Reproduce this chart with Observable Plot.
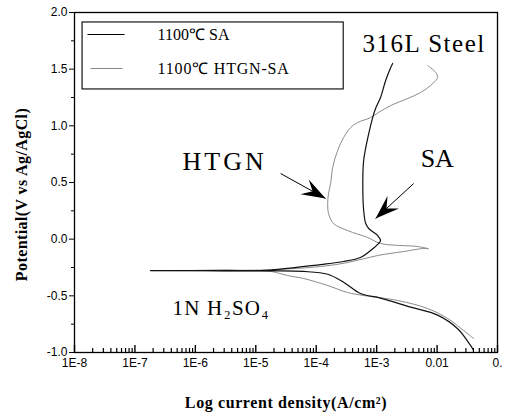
<!DOCTYPE html>
<html><head><meta charset="utf-8">
<script src="https://cdn.jsdelivr.net/npm/d3@7"></script>
<script src="https://cdn.jsdelivr.net/npm/@observablehq/plot@0.6"></script>
<style>body{margin:0;background:#fff;}</style>
</head><body><div id="chart"></div>
<script>
// ---- data ----
const seriesNames = ["1100℃ SA", "1100℃ HTGN-SA"];

// SA: scan order, cathodic end -> corrosion potential -> anodic end
const saCurrent = [0.040, 0.036, 0.0219, 0.0102, 3.66e-3, 1.16e-3, 5.4e-4, 2.84e-4, 1.55e-4, 6.2e-5, 1.76e-5, 3e-6, 1.8e-7,
  3e-6, 1.76e-5, 1.18e-4, 2.84e-4, 5.4e-4, 7.96e-4, 1.08e-3, 1.16e-3, 1.04e-3, 7.4e-4, 6.6e-4, 6.1e-4, 5.9e-4, 6.1e-4, 7.4e-4, 8.6e-4, 9.6e-4, 1.16e-3, 1.41e-3, 1.71e-3, 1.84e-3];
const saPotential = [-0.98, -0.94, -0.79, -0.67, -0.60, -0.52, -0.48, -0.38, -0.31, -0.285, -0.28, -0.279, -0.277,
  -0.276, -0.272, -0.224, -0.197, -0.162, -0.10, -0.038, -0.012, 0.032, 0.094, 0.138, 0.253, 0.491, 0.694, 0.932, 1.073, 1.153, 1.25, 1.40, 1.515, 1.55];

// HTGN-SA
const htgnCurrent = [0.0404, 0.0275, 0.015, 6.98e-3, 2.23e-3, 6.1e-4, 3.31e-4, 1.55e-4, 6.2e-5, 3.36e-5, 2.4e-5, 1.76e-5, 3e-6, 1.8e-7,
  3e-6, 1.76e-5, 1.18e-4, 3.31e-4, 1.04e-3, 2.8e-3, 6.0e-3, 7.2e-3, 4.77e-3, 1.16e-3, 7.1e-4, 3.31e-4, 1.94e-4, 1.6e-4, 1.55e-4, 1.6e-4, 1.73e-4, 1.87e-4, 2.26e-4, 2.84e-4, 3.72e-4, 4.84e-4, 7.96e-4, 1.08e-3, 1.71e-3, 3.26e-3, 5.35e-3, 7.8e-3, 0.0102, 9.5e-3, 6.98e-3];
const htgnPotential = [-0.877, -0.806, -0.70, -0.612, -0.541, -0.497, -0.471, -0.409, -0.347, -0.321, -0.30, -0.285, -0.28, -0.277,
  -0.275, -0.27, -0.241, -0.206, -0.144, -0.109, -0.082, -0.085, -0.065, -0.038, 0.015, 0.076, 0.138, 0.226, 0.324, 0.403, 0.491, 0.632, 0.782, 0.897, 0.985, 1.029, 1.073, 1.118, 1.179, 1.241, 1.294, 1.356, 1.426, 1.471, 1.532];

const xTickValues = [1e-8, 1e-7, 1e-6, 1e-5, 1e-4, 1e-3, 1e-2, 1e-1];
const xTickLabels = ["1E-8", "1E-7", "1E-6", "1E-5", "1E-4", "1E-3", "0.01", "0."];
const yTickValues = [-1, -0.5, 0, 0.5, 1, 1.5, 2];
const yMinorTicks = [-0.75, -0.25, 0.25, 0.75, 1.25, 1.75];

// ---- layout ----
const W = 506, H = 414, mL = 74, mR = 9, mT = 12, mB = 62;
const innerH = H - mT - mB;
const xDomain = [1e-8, 0.1], yDomain = [-1, 2];

const rows = [];
saCurrent.forEach((c, i) => rows.push({series: seriesNames[0], i: c, v: saPotential[i]}));
htgnCurrent.forEach((c, i) => rows.push({series: seriesNames[1], i: c, v: htgnPotential[i]}));
const saRows = rows.filter(d => d.series === seriesNames[0]);
const htRows = rows.filter(d => d.series === seriesNames[1]);

const xMinor = [];
for (let e = -8; e <= -2; e++) for (let m = 2; m <= 9; m++) xMinor.push(m * Math.pow(10, e));

const xs = Plot.scale({x: {type: "log", domain: xDomain, range: [mL, W - mR]}});
const ys = Plot.scale({y: {type: "linear", domain: yDomain, range: [H - mB, mT]}});

const arrows = [
  {x1: 2.58e-5, y1: 0.579, x2: 1.43e-4, y2: 0.359},
  {x1: 4.1e-3, y1: 0.491, x2: 9.6e-4, y2: 0.182}
].map(a => ({...a, angle: Math.atan2(ys.apply(a.y2) - ys.apply(a.y1), xs.apply(a.x2) - xs.apply(a.x1)) * 180 / Math.PI}));

const arrowHead = {
  draw(ctx) {
    const L = 24, Wd = 8.5;
    ctx.moveTo(0, 0);
    ctx.lineTo(-L, -Wd);
    ctx.lineTo(-L * 0.62, 0);
    ctx.lineTo(-L, Wd);
    ctx.closePath();
  }
};

const serif = "'Liberation Serif', 'Times New Roman', serif";

const chart = Plot.plot({
  width: W, height: H,
  marginLeft: mL, marginRight: mR, marginTop: mT, marginBottom: mB,
  style: {fontFamily: "'Liberation Sans', Arial, sans-serif", fontSize: "12px", background: "#fff", color: "#000"},
  x: {type: "log", domain: xDomain, label: null},
  y: {domain: yDomain, label: null},
  marks: [
    // legend box
    Plot.rect([0], {x1: () => 1.36e-8, x2: () => 2.85e-4, y1: () => 1.321, y2: () => 1.912, fill: "white", stroke: "black", strokeWidth: 1.1}),
    Plot.link([0], {x1: () => 1.64e-8, x2: () => 6.73e-8, y1: () => 1.806, y2: () => 1.806, stroke: "black", strokeWidth: 1.2}),
    Plot.link([0], {x1: () => 1.84e-8, x2: () => 6.24e-8, y1: () => 1.506, y2: () => 1.506, stroke: "#888", strokeWidth: 1}),
    Plot.text([seriesNames[0]], {x: () => 2.37e-7, y: () => 1.801, text: d => d, textAnchor: "start", fontFamily: serif, fontSize: 16}),
    Plot.text([seriesNames[1]], {x: () => 2.37e-7, y: () => 1.506, text: d => d, textAnchor: "start", fontFamily: serif, fontSize: 16}),
    // curves
    Plot.line(htRows, {x: "i", y: "v", stroke: "#8a8a8a", strokeWidth: 1, curve: "catmull-rom"}),
    Plot.line(saRows, {x: "i", y: "v", stroke: "#111", strokeWidth: 1.2, curve: "catmull-rom"}),
    // annotations
    Plot.text(["316L Steel"], {x: () => 5.86e-4, y: () => 1.718, text: d => d, textAnchor: "start", fontFamily: serif, fontSize: 25}),
    Plot.text(["HTGN"], {x: () => 6.14e-7, y: () => 0.685, text: d => d, textAnchor: "start", fontFamily: serif, fontSize: 26}),
    Plot.text(["SA"], {x: () => 5.35e-3, y: () => 0.712, text: d => d, textAnchor: "start", fontFamily: serif, fontSize: 26}),
    Plot.text(["1N H₂SO₄"], {x: () => 4.2e-7, y: () => -0.612, text: d => d, textAnchor: "start", fontFamily: serif, fontSize: 21}),
    Plot.link(arrows, {x1: "x1", y1: "y1", x2: "x2", y2: "y2", stroke: "black", strokeWidth: 1}),
    Plot.dot(arrows, {x: "x2", y: "y2", rotate: "angle", symbol: arrowHead, r: 5, fill: "black", stroke: "none"}),
    // inward x ticks along the bottom edge
    Plot.tickX(xTickValues, {x: d => d, insetTop: innerH - 7, stroke: "black", strokeWidth: 1.4}),
    Plot.tickX(xMinor, {x: d => d, insetTop: innerH - 4, stroke: "black", strokeWidth: 1.2}),
    // axes
    Plot.frame({stroke: "black", strokeWidth: 1.3}),
    Plot.axisY(yTickValues, {tickSize: 5, tickPadding: 2, tickFormat: d => d.toFixed(1), label: null, fontSize: 12}),
    Plot.axisY(yMinorTicks, {tickSize: 3, tickFormat: () => "", label: null}),
    Plot.axisX(xTickValues, {tickSize: 0, tickPadding: 6, tickFormat: d => xTickLabels[xTickValues.indexOf(d)], label: null, fontSize: 12}),
    Plot.text(["Log current density(A/cm²)"], {frameAnchor: "bottom", dy: 55, text: d => d, fontFamily: serif, fontWeight: "bold", fontSize: 16}),
    Plot.text(["Potential(V vs Ag/AgCl)"], {frameAnchor: "left", textAnchor: "middle", rotate: -90, dx: -53, dy: 12, text: d => d, fontFamily: serif, fontWeight: "bold", fontSize: 16})
  ]
});
// letter spacing tweaks to mimic the wider original typeface
d3.select(chart).selectAll("text").each(function() {
  const t = this.textContent;
  if (t === "316L Steel") this.setAttribute("letter-spacing", "1.5");
  if (t === "HTGN") this.setAttribute("letter-spacing", "3");
  if (t === "1N H₂SO₄") this.setAttribute("letter-spacing", "1.2");
  if (t === seriesNames[1]) this.setAttribute("letter-spacing", "0.8");
  if (t === "Log current density(A/cm²)") this.setAttribute("letter-spacing", "0.6");
  if (t === "Potential(V vs Ag/AgCl)") this.setAttribute("letter-spacing", "0.4");
});
document.getElementById("chart").appendChild(chart);
</script>
</body></html>
